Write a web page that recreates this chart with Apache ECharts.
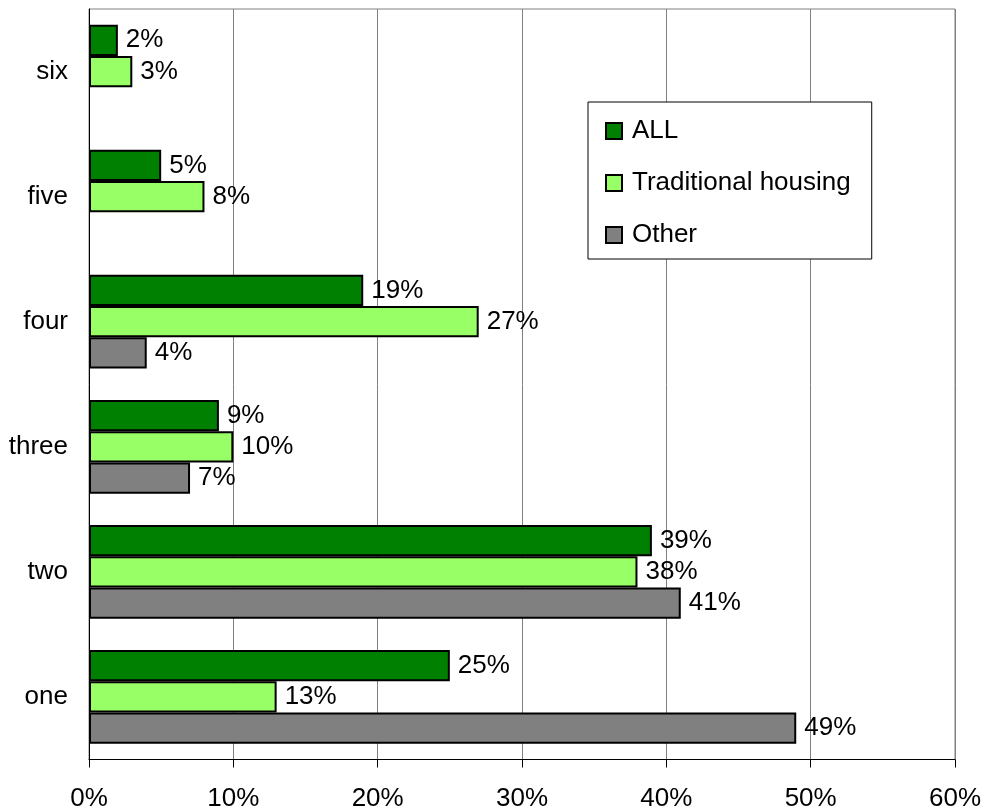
<!DOCTYPE html>
<html><head><meta charset="utf-8">
<script src="https://cdn.jsdelivr.net/npm/echarts@6/dist/echarts.min.js"></script>
<style>html,body{margin:0;padding:0;background:#fff}#c{width:986px;height:812px}</style>
</head><body><div id="c"></div>
<script>
const categories = ['one', 'two', 'three', 'four', 'five', 'six'];
const seriesNames = ['ALL', 'Traditional housing', 'Other'];
const allValues = [25, 39, 9, 19, 5, 2];
const traditionalValues = [13, 38, 10, 27, 8, 3];
const otherValues = [49, 41, 7, 4, null, null];
const xTicks = [0, 10, 20, 30, 40, 50, 60];

const colors = ['#008000', '#99FF66', '#808080'];
const FONT = 'Liberation Sans, Arial, sans-serif';
const FS = 26;

function mk(name, data, color) {
  return {
    name: name, type: 'bar', data: data,
    barGap: '0%', barCategoryGap: '25%',
    itemStyle: { color: color, borderColor: '#000', borderWidth: 2 },
    label: { show: true, position: 'right', distance: 8, formatter: '{c}%',
      color: '#000', fontFamily: FONT, fontSize: FS },
    animation: false
  };
}

const chart = echarts.init(document.getElementById('c'));
chart.setOption({
  animation: false,
  backgroundColor: '#fff',
  grid: { left: 89, right: 31, top: 9, bottom: 52.5, show: true, borderColor: '#808080', borderWidth: 1 },
  legend: {
    data: seriesNames, orient: 'vertical', left: 588, top: 102,
    padding: [16, 21, 11, 17], itemGap: 26, itemWidth: 16, itemHeight: 16,
    borderColor: '#000', borderWidth: 1, backgroundColor: '#fff',
    icon: 'rect',
    itemStyle: { borderColor: '#000', borderWidth: 2 },
    textStyle: { fontFamily: FONT, fontSize: FS, color: '#000', padding: [0, 0, 0, 5] }
  },
  xAxis: {
    type: 'value', min: xTicks[0], max: xTicks[xTicks.length - 1], interval: 10,
    axisLine: { show: true, lineStyle: { color: '#000', width: 1 } },
    axisTick: { show: true, length: 8, lineStyle: { color: '#000' } },
    axisLabel: { formatter: '{value}%', margin: 26, color: '#000', fontFamily: FONT, fontSize: FS },
    splitLine: { show: true, lineStyle: { color: '#808080', width: 1 } }
  },
  yAxis: {
    type: 'category', data: categories,
    axisLine: { show: true, lineStyle: { color: '#000', width: 1 } },
    axisTick: { show: false },
    axisLabel: { margin: 21, color: '#000', fontFamily: FONT, fontSize: FS }
  },
  series: [
    mk(seriesNames[0], allValues, colors[0]),
    mk(seriesNames[1], traditionalValues, colors[1]),
    mk(seriesNames[2], otherValues, colors[2])
  ]
});
</script></body></html>
